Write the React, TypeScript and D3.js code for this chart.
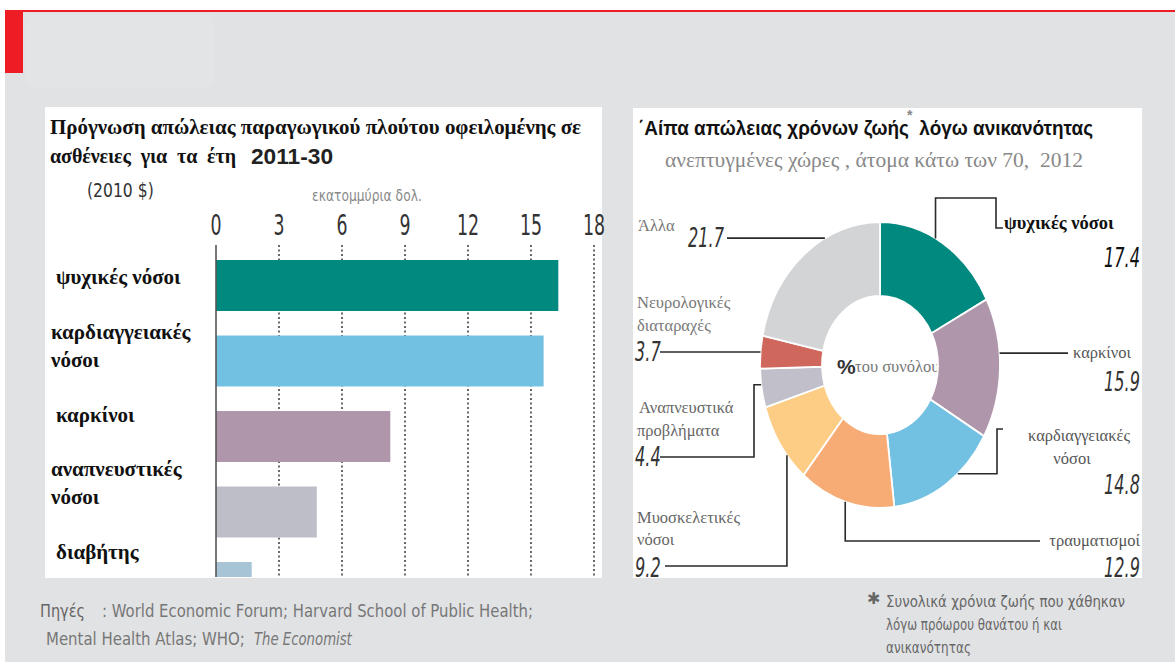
import React from 'react';
import * as d3 from 'd3';

// left chart: projected losses 2011-30, millions as labelled
const barCategories = ['ψυχικές νόσοι', 'καρδιαγγειακές νόσοι', 'καρκίνοι', 'αναπνευστικές νόσοι', 'διαβήτης'];
const barLabelLines = [['ψυχικές νόσοι'], ['καρδιαγγειακές', 'νόσοι'], ['καρκίνοι'], ['αναπνευστικές', 'νόσοι'], ['διαβήτης']];
const barValues = [16.3, 15.6, 8.3, 4.8, 1.7];
const barColors = ['#00897e', '#72c1e3', '#b096aa', '#bebec8', '#a7c4d6'];
const xTicks = [0, 3, 6, 9, 12, 15, 18];

// right chart: share of years lost to disability, %
const donutCategories = ['ψυχικές νόσοι', 'καρκίνοι', 'καρδιαγγειακές νόσοι', 'τραυματισμοί', 'Μυοσκελετικές νόσοι', 'Αναπνευστικά προβλήματα', 'Νευρολογικές διαταραχές', 'Άλλα'];
const donutValues = [17.4, 15.9, 14.8, 12.9, 9.2, 4.4, 3.7, 21.7];
const donutColors = ['#00897e', '#b096aa', '#72c1e3', '#f7ac76', '#fdcd85', '#c1c0ca', '#d0675c', '#d3d4d6'];

const serif = "'Liberation Serif', 'DejaVu Serif', serif";
const sans = "'Liberation Sans', Arial, sans-serif";
const cond = "'DejaVu Sans', sans-serif";

type P = [number, number];

// squeezed sans text, stands in for the condensed Economist face
const Cond = ({ x, y, sx = 0.64, size = 26, anchor = 'start', fill = '#333', italic = false, children }: any) => (
  <text transform={`translate(${x},${y}) scale(${sx},1)`} textAnchor={anchor} fontFamily={cond} fontSize={size}
    fontStyle={italic ? 'italic' : 'normal'} fill={fill}>{children}</text>
);

// label layout for the donut: where along the slice the leader starts, its route, the text
const donutLabels = [
  { frac: 0.44, route: (a: P): P[] => [a, [a[0], 198], [996, 198], [996, 228], [1003, 228]],
    lines: [{ t: 'ψυχικές νόσοι', x: 1004, y: 229, anchor: 'start', fill: '#111', weight: 600, size: 18.5 }], num: { x: 1140, y: 267, fill: '#111' } },
  { frac: 0.395, route: (a: P): P[] => [a, [1068, a[1]]],
    lines: [{ t: 'καρκίνοι', x: 1073, y: 358, anchor: 'start', fill: '#555', weight: 400, size: 16.5 }], num: { x: 1140, y: 391, fill: '#333' } },
  { frac: 0.37, route: (a: P): P[] => [a, [997, a[1]], [997, 429], [1003, 429]],
    lines: [{ t: 'καρδιαγγειακές', x: 1079, y: 441, anchor: 'middle', fill: '#555', weight: 400, size: 16.5 }, { t: 'νόσοι', x: 1072, y: 464, anchor: 'middle', fill: '#555', weight: 400, size: 16.5 }], num: { x: 1140, y: 494, fill: '#333' } },
  { frac: 0.51, route: (a: P): P[] => [a, [a[0], 541], [1040, 541]],
    lines: [{ t: 'τραυματισμοί', x: 1140, y: 546, anchor: 'end', fill: '#555', weight: 400, size: 16.5 }], num: { x: 1140, y: 577, fill: '#333' } },
  { frac: 0.34, route: (a: P): P[] => [a, [a[0], 566], [665, 566]],
    lines: [{ t: 'Μυοσκελετικές', x: 637, y: 523, anchor: 'start', fill: '#666', weight: 400, size: 16.5 }, { t: 'νόσοι', x: 637, y: 545, anchor: 'start', fill: '#666', weight: 400, size: 16.5 }], num: { x: 635, y: 577, fill: '#333', anchor: 'start' } },
  { frac: 0.59, route: (a: P): P[] => [a, [754, a[1]], [754, 457], [660, 457]],
    lines: [{ t: 'Αναπνευστικά', x: 639, y: 413, anchor: 'start', fill: '#666', weight: 400, size: 16.5 }, { t: 'προβλήματα', x: 637, y: 436, anchor: 'start', fill: '#666', weight: 400, size: 16.5 }], num: { x: 635, y: 466, fill: '#333', anchor: 'start' } },
  { frac: 0.5, route: (a: P): P[] => [a, [660, a[1]]],
    lines: [{ t: 'Νευρολογικές', x: 637, y: 308, anchor: 'start', fill: '#777', weight: 400, size: 16.5 }, { t: 'διαταραχές', x: 637, y: 331, anchor: 'start', fill: '#777', weight: 400, size: 16.5 }], num: { x: 635, y: 361, fill: '#333', anchor: 'start' } },
  { frac: 0.65, route: (a: P): P[] => [a, [727, a[1]]],
    lines: [{ t: 'Άλλα', x: 638, y: 231, anchor: 'start', fill: '#777', weight: 400, size: 16.5 }], num: { x: 724, y: 247, fill: '#333' } },
];

const App = () => {
  // ---- bar chart scales
  const x = d3.scaleLinear().domain([0, 18]).range([216, 594]);
  const y = d3.scaleBand<string>().domain(barCategories).range([247.75, 625.25]).paddingInner(0.325).paddingOuter(0.1625);
  // the category labels sit on their own spacing, not on the bar centres
  const yLabel = d3.scalePoint<string>().domain(barCategories).range([277, 552]);
  const plotTop = 245;
  const plotBottom = 577;

  // ---- donut (drawn slightly taller than wide, like the source)
  const cx = 880, cy = 365, rOuter = 120, rInner = 58, sy = 1.19;
  const pie = d3.pie<number>().sort(null).value(d => d);
  const arcs = pie(donutValues);
  const arc = d3.arc<d3.PieArcDatum<number>>().innerRadius(rInner).outerRadius(rOuter);
  const onEdge = (ang: number): P => [cx + rOuter * Math.sin(ang), cy - rOuter * Math.cos(ang) * sy];
  const line = d3.line();

  return (
    <div style={{ position: 'absolute', left: 0, top: 0 }}>
      <svg width={1175} height={662} style={{ display: 'block' }}>
        <rect width={1175} height={662} fill="#ffffff" />
        <rect x={5} y={11} width={1170} height={651} fill="#e1e2e4" />
        <rect x={5} y={10} width={1170} height={2} fill="#ee1c25" />
        <rect x={5} y={10} width={18} height={63} fill="#ee1c25" />
        <rect x={26} y={14} width={188} height={74} rx={8} fill="#e3e4e6" />

        {/* ---------- left panel ---------- */}
        <rect x={45} y={107} width={557} height={471} fill="#fff" />
        <text x={50} y={134} fontFamily={serif} fontWeight="bold" fontSize={20} fill="#111" textLength={531} lengthAdjust="spacingAndGlyphs">
          Πρόγνωση απώλειας παραγωγικού πλούτου οφειλομένης σε
        </text>
        <text x={50} y={163} fontFamily={serif} fontWeight="bold" fontSize={20} fill="#111" textLength={186} lengthAdjust="spacing" xmlSpace="preserve">
          ασθένειες  για  τα  έτη
        </text>
        <text x={251} y={164} fontFamily={sans} fontWeight="bold" fontSize={22} fill="#222" textLength={82} lengthAdjust="spacingAndGlyphs">2011-30</text>
        <Cond x={87} y={197} size={20} sx={0.78} fill="#333">(2010 $)</Cond>
        <Cond x={312} y={201} size={15} sx={0.82} fill="#888">εκατομμύρια δολ.</Cond>

        {xTicks.map(t => (
          <Cond key={t} x={x(t)} y={235} size={28} sx={0.62} anchor="middle" fill="#333">{t}</Cond>
        ))}
        {xTicks.filter(t => t > 0).map(t => (
          <line key={t} x1={x(t)} x2={x(t)} y1={plotTop} y2={plotBottom} stroke="#444" strokeWidth={1.6} strokeDasharray="2,2.5" />
        ))}
        <defs>
          <clipPath id="plotClip">
            <rect x={x(0)} y={plotTop} width={x(18) - x(0)} height={plotBottom - plotTop} />
          </clipPath>
        </defs>
        <g clipPath="url(#plotClip)">
          {barCategories.map((c, i) => (
            <rect key={c} x={x(0)} y={y(c)} width={x(barValues[i]) - x(0)} height={y.bandwidth()} fill={barColors[i]} />
          ))}
        </g>
        <line x1={x(0)} x2={x(0)} y1={plotTop} y2={plotBottom} stroke="#555" strokeWidth={1.6} />

        {barCategories.map((c, i) => {
          const lines = barLabelLines[i];
          const mid = yLabel(c) as number;
          const start = mid - ((lines.length - 1) * 28) / 2 + 7;
          return lines.map((l, j) => (
            <text key={c + j} x={lines.length > 1 ? 51 : 56} y={start + j * 28} fontFamily={serif} fontWeight="bold" fontSize={21} fill="#111">{l}</text>
          ));
        })}

        {/* ---------- right panel ---------- */}
        <rect x={633} y={108} width={509} height={470} fill="#fff" />
        <text x={638} y={135} fontFamily={sans} fontWeight="bold" fontSize={20} fill="#111" textLength={455} lengthAdjust="spacingAndGlyphs" xmlSpace="preserve">
          ΄Αίπα απώλειας χρόνων ζωής  λόγω ανικανότητας
        </text>
        <text x={907} y={120} fontFamily={sans} fontWeight="bold" fontSize={14} fill="#888">*</text>
        <text x={665} y={167} fontFamily={serif} fontSize={20} fill="#888" textLength={418} lengthAdjust="spacingAndGlyphs" xmlSpace="preserve">
          ανεπτυγμένες χώρες , άτομα κάτω των 70,  2012
        </text>

        <text x={837} y={374} fontFamily={sans} fontWeight="bold" fontSize={21} fill="#333">%</text>
        <text x={855} y={372} fontFamily={serif} fontSize={16.5} fill="#777">του συνόλου</text>

        <g transform={`translate(${cx},${cy}) scale(1,${sy})`}>
          {arcs.map((a, i) => (
            <path key={donutCategories[i]} d={arc(a) as string} fill={donutColors[i]} stroke="#fff" strokeWidth={1.8} vectorEffect="non-scaling-stroke" />
          ))}
        </g>

        {donutLabels.map((lb, i) => {
          const a = arcs[i];
          const anchor = onEdge(a.startAngle + lb.frac * (a.endAngle - a.startAngle));
          return (
            <g key={donutCategories[i]}>
              <path d={line(lb.route(anchor)) as string} fill="none" stroke="#2a2a2a" strokeWidth={1.6} />
              {lb.lines.map((l, j) => (
                <text key={j} x={l.x} y={l.y} textAnchor={l.anchor as any} fontFamily={serif} fontWeight={l.weight} fontSize={l.size} fill={l.fill}>{l.t}</text>
              ))}
              <Cond x={lb.num.x} y={lb.num.y} size={26} sx={0.62} italic anchor={(lb.num as any).anchor || 'end'} fill={lb.num.fill}>
                {donutValues[i]}
              </Cond>
            </g>
          );
        })}

        {/* ---------- footer ---------- */}
        <text x={40} y={617} fontFamily={cond} fontSize={17} fill="#666" textLength={45} lengthAdjust="spacingAndGlyphs">Πηγές</text>
        <text x={102} y={617} fontFamily={cond} fontSize={17} fill="#777" textLength={431} lengthAdjust="spacingAndGlyphs">
          : World Economic Forum; Harvard School of Public Health;
        </text>
        <Cond x={46} y={645} size={17} sx={0.88} fill="#777">Mental Health Atlas; WHO;</Cond>
        <Cond x={254} y={645} size={17} sx={0.78} italic fill="#777">The Economist</Cond>
        <text x={867} y={604} fontFamily={sans} fontSize={16} fill="#666">✱</text>
        <text x={886} y={607} fontFamily={cond} fontSize={15.5} fill="#666" textLength={239} lengthAdjust="spacingAndGlyphs">Συνολικά χρόνια ζωής που χάθηκαν</text>
        <text x={886} y={630} fontFamily={cond} fontSize={15.5} fill="#666" textLength={176} lengthAdjust="spacingAndGlyphs">λόγω πρόωρου θανάτου ή και</text>
        <text x={886} y={653} fontFamily={cond} fontSize={15.5} fill="#666" textLength={85} lengthAdjust="spacingAndGlyphs">ανικανότητας</text>
      </svg>
    </div>
  );
};

export default App;
